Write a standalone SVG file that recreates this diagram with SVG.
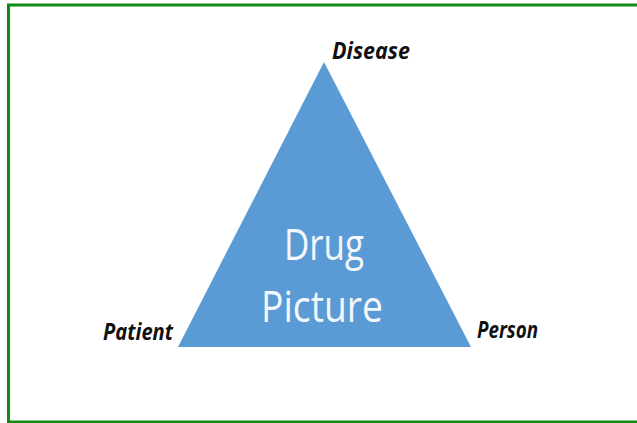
<svg xmlns="http://www.w3.org/2000/svg" width="637" height="423" viewBox="0 0 637 423">
<style>
.lbl{font-family:"Open Sans","Liberation Sans",sans-serif;font-weight:bold;font-style:italic;font-size:23px;fill:#111111}
.ctr{font-family:"Open Sans","Liberation Sans",sans-serif;font-size:44px;fill:#F4F7FB;text-anchor:middle}
</style>
<rect x="0" y="0" width="637" height="423" fill="#ffffff"/>
<rect id="frame" x="8.5" y="5" width="640" height="417" fill="none" stroke="#118A11" stroke-width="3"/>
<g id="triangle">
<polygon points="324,62 178,347 471,347" fill="#5B9BD5"/>
<text class="ctr" x="324" y="260" textLength="80" lengthAdjust="spacingAndGlyphs">Drug</text>
<text class="ctr" x="322" y="322" textLength="122" lengthAdjust="spacingAndGlyphs">Picture</text>
</g>
<g id="disease"><text class="lbl" x="332" y="59" textLength="78" lengthAdjust="spacingAndGlyphs">Disease</text></g>
<g id="patient"><text class="lbl" x="103" y="340" textLength="70" lengthAdjust="spacingAndGlyphs">Patient</text></g>
<g id="person"><text class="lbl" x="477" y="338" textLength="61" lengthAdjust="spacingAndGlyphs">Person</text></g>
<g id="connectors"></g>
</svg>
